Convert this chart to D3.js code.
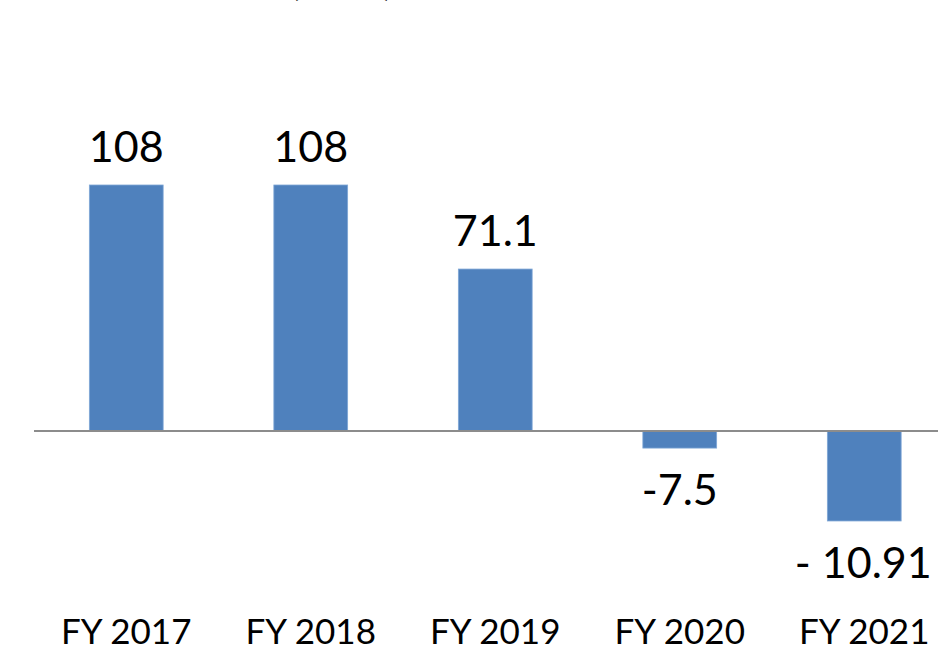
<!DOCTYPE html>
<html><head><meta charset="utf-8">
<script src="https://cdn.jsdelivr.net/npm/d3@7"></script>
<style>html,body{margin:0;padding:0;background:#fff;overflow:hidden}</style>
</head><body>
<svg id="c" width="938" height="649"></svg>
<script>
const categories = ["FY 2017","FY 2018","FY 2019","FY 2020","FY 2021"];
const values = [108, 108, 71.1, -7.5, -39.5];
const valueLabels = ["108","108","71.1","-7.5","- 10.91"];
const titleText = "PAT (₹ Cr)";

const svg = d3.select("#c");
const font = "Lato, 'Open Sans', sans-serif";

const x = d3.scaleBand().domain(categories).range([34, 956.5]).paddingInner(0.6).paddingOuter(0.3);
const y = d3.scaleLinear().domain([0, 108]).range([431, 185]);

// title (mostly cropped at top)
svg.append("text").attr("x", 394).attr("y", -6).attr("text-anchor","end")
  .attr("font-family", font).attr("font-weight","bold").attr("font-size", 44).attr("fill","#000")
  .text(titleText);

svg.selectAll("rect.bar").data(values).join("rect").attr("class","bar")
  .attr("x", (d,i)=>x(categories[i]))
  .attr("width", x.bandwidth())
  .attr("y", d=>Math.min(y(d), y(0)))
  .attr("height", d=>Math.abs(y(d)-y(0)))
  .attr("fill","#4F81BD").attr("stroke","#7FA7D6").attr("stroke-width",0.8);

// baseline axis
const axis = d3.axisBottom(x).tickSize(0).tickPadding(0);
const g = svg.append("g").attr("transform",`translate(0,${y(0)})`).call(axis);
g.select(".domain").attr("stroke","#8C8C8C").attr("stroke-width",1.8).attr("d","M34,0H938");
g.selectAll(".tick text").remove();

// category labels
svg.selectAll("text.cat").data(categories).join("text").attr("class","cat")
  .attr("x", d=>x(d)+x.bandwidth()/2).attr("y", 644)
  .attr("text-anchor","middle").attr("font-family",font).attr("font-size",35).attr("fill","#000")
  .text(d=>d);

// value labels
svg.selectAll("text.val").data(values).join("text").attr("class","val")
  .attr("x", (d,i)=>x(categories[i])+x.bandwidth()/2 + (i===4?-1:0))
  .attr("y", (d,i)=> d>=0 ? y(d)-23 : y(d)+57)
  .attr("text-anchor","middle").attr("font-family",font).attr("font-size",43).attr("fill","#000")
  .text((d,i)=>valueLabels[i]);
</script>
</body></html>
